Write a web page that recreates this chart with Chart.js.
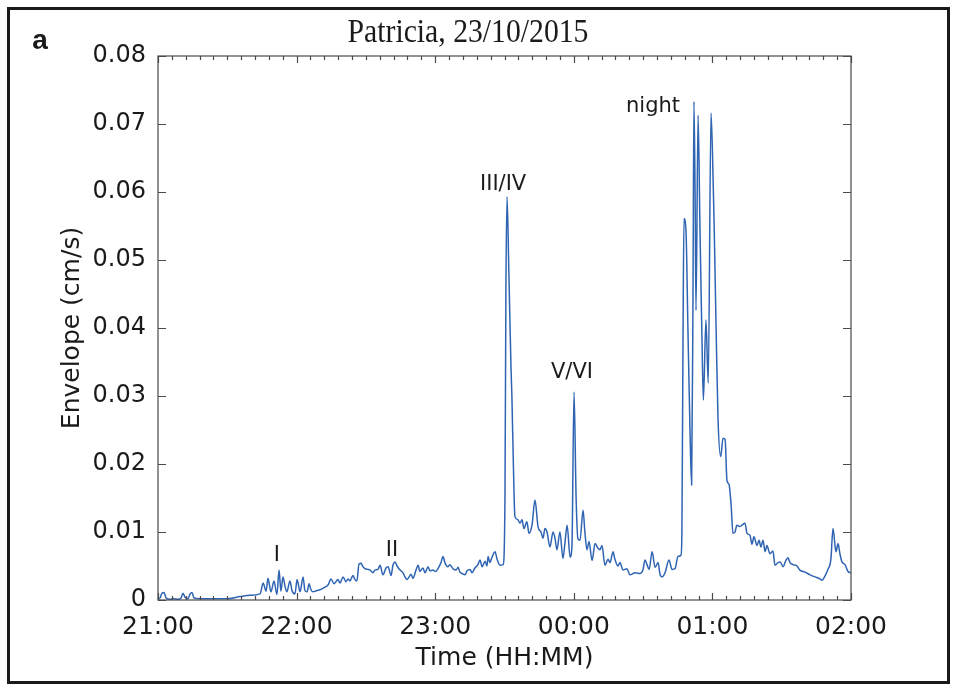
<!DOCTYPE html>
<html>
<head>
<meta charset="utf-8">
<script src="https://cdn.jsdelivr.net/npm/chart.js@4.4.1/dist/chart.umd.min.js"></script>
<style>
  html, body { margin: 0; padding: 0; background: #fff; }
  #wrap { position: absolute; left: 0; top: 0; width: 956px; height: 687px; }
</style>
</head>
<body>
<div id="wrap"><canvas id="c" width="956" height="687"></canvas></div>
<script>
// Time in minutes after 21:00 (23/10/2015)
const times = [
  0, 0.9, 1.7, 2.6, 3.5, 5.2, 6.9, 8.7, 10.0, 10.8, 11.7, 13.0, 13.9, 14.7, 15.6, 18.2, 22.5, 26.8, 30.3, 35.5,
  39.8, 44.2, 45.5, 46.8, 47.6, 48.9, 50.2, 51.5, 52.4, 53.2, 54.1, 55.0, 55.8, 57.1, 58.0, 59.3, 60.2, 61.5, 62.8, 63.6,
  64.5, 65.4, 66.2, 67.1, 68.8, 70.1, 71.4, 72.3, 73.6, 74.9, 76.2, 77.9, 78.8, 80.1, 81.4, 82.3, 83.1, 84.4, 85.3, 86.1,
  87.0, 87.9, 88.7, 89.6, 90.9, 91.8, 93.1, 93.9, 95.2, 96.1, 97.4, 98.7, 99.6, 100.9, 101.7, 102.6, 103.5, 104.8, 106.1, 106.9,
  107.8, 108.7, 109.5, 110.4, 111.7, 112.6, 113.4, 114.7, 115.6, 116.9, 117.7, 119.0, 120.3, 121.2, 122.5, 123.4, 124.2, 125.5, 126.4, 127.7,
  129.0, 129.9, 130.7, 131.6, 132.9, 133.8, 135.1, 135.9, 137.2, 138.5, 139.4, 140.3, 141.6, 142.4, 142.9, 143.7, 144.6, 145.9, 146.8, 148.1,
  149.4, 150.2, 150.6, 151.1, 151.9, 152.8, 153.2, 154.1, 154.5, 155.8, 156.7, 157.6, 158.4, 159.7, 160.6, 161.9, 163.2, 164.5, 165.8, 166.7,
  167.5, 168.4, 169.7, 171.0, 171.9, 172.7, 174.0, 175.3, 176.2, 177.1, 178.4, 179.2, 180.1, 181.0, 181.8, 182.7, 184.0, 184.8, 185.7, 186.6,
  187.9, 189.2, 190.5, 191.3, 192.2, 193.5, 194.8, 195.7, 197.0, 197.8, 199.1, 200.0, 201.3, 203.0, 204.3, 206.5, 208.7, 210.0, 210.8, 211.7,
  212.6, 213.9, 215.2, 216.5, 217.3, 218.2, 219.5, 221.2, 222.5, 223.8, 225.1, 226.4, 226.8, 227.3, 227.7, 228.6, 229.4, 230.3, 231.0, 231.6,
  232.0, 232.5, 232.9, 233.8, 234.6, 235.5, 236.1, 237.2, 238.2, 239.4, 240.3, 240.8, 241.6, 242.4, 243.6, 244.6, 245.5, 246.3, 247.2, 248.1,
  248.9, 249.8, 250.6, 251.9, 252.8, 254.1, 255.0, 256.3, 257.1, 258.0, 259.3, 260.2, 261.0, 261.9, 262.8, 263.6, 264.9, 266.2, 267.1, 268.4,
  269.3, 270.6, 271.8, 272.7, 273.6, 274.9, 276.6, 277.9, 280.1, 282.3, 284.4, 286.6, 287.4, 288.7, 290.0, 291.3, 292.2, 293.1, 293.5, 294.4,
  295.2, 296.1, 297.4, 298.7, 300.0
];
// Envelope (cm/s)
const envelope = [
  0.0002, 0.0003, 0.0010, 0.0011, 0.0003, 0.0001, 0.0002, 0.0001, 0.0003, 0.0010, 0.0004, 0.0002, 0.0009, 0.0011, 0.0003, 0.0002, 0.0002, 0.0002, 0.0002, 0.0005,
  0.0007, 0.0009, 0.0025, 0.0013, 0.0032, 0.0012, 0.0028, 0.0008, 0.0044, 0.0013, 0.0034, 0.0020, 0.0012, 0.0028, 0.0014, 0.0009, 0.0030, 0.0012, 0.0034, 0.0014,
  0.0012, 0.0024, 0.0015, 0.0012, 0.0014, 0.0015, 0.0017, 0.0019, 0.0022, 0.0031, 0.0024, 0.0030, 0.0025, 0.0034, 0.0027, 0.0031, 0.0028, 0.0036, 0.0030, 0.0028,
  0.0053, 0.0054, 0.0049, 0.0046, 0.0045, 0.0044, 0.0040, 0.0044, 0.0045, 0.0051, 0.0037, 0.0047, 0.0049, 0.0036, 0.0051, 0.0056, 0.0050, 0.0044, 0.0040, 0.0034,
  0.0030, 0.0034, 0.0038, 0.0032, 0.0044, 0.0051, 0.0042, 0.0047, 0.0040, 0.0049, 0.0043, 0.0044, 0.0042, 0.0046, 0.0055, 0.0064, 0.0055, 0.0049, 0.0052, 0.0046,
  0.0044, 0.0048, 0.0041, 0.0039, 0.0037, 0.0043, 0.0045, 0.0040, 0.0047, 0.0052, 0.0059, 0.0049, 0.0057, 0.0050, 0.0064, 0.0055, 0.0063, 0.0071, 0.0060, 0.0051,
  0.0052, 0.0150, 0.0450, 0.0593, 0.0480, 0.0343, 0.0300, 0.0160, 0.0123, 0.0118, 0.0113, 0.0118, 0.0105, 0.0115, 0.0098, 0.0110, 0.0147, 0.0108, 0.0100, 0.0091,
  0.0105, 0.0100, 0.0078, 0.0100, 0.0090, 0.0074, 0.0100, 0.0061, 0.0085, 0.0110, 0.0063, 0.0080, 0.0306, 0.0150, 0.0090, 0.0088, 0.0132, 0.0100, 0.0074, 0.0086,
  0.0058, 0.0083, 0.0076, 0.0074, 0.0080, 0.0051, 0.0060, 0.0055, 0.0071, 0.0060, 0.0050, 0.0055, 0.0044, 0.0046, 0.0037, 0.0040, 0.0039, 0.0045, 0.0059, 0.0052,
  0.0045, 0.0071, 0.0048, 0.0055, 0.0038, 0.0034, 0.0040, 0.0059, 0.0045, 0.0046, 0.0064, 0.0066, 0.0100, 0.0400, 0.0561, 0.0540, 0.0400, 0.0250, 0.0169, 0.0450,
  0.0733, 0.0600, 0.0426, 0.0713, 0.0550, 0.0380, 0.0294, 0.0412, 0.0319, 0.0716, 0.0620, 0.0544, 0.0400, 0.0270, 0.0211, 0.0238, 0.0236, 0.0176, 0.0170, 0.0140,
  0.0098, 0.0100, 0.0110, 0.0108, 0.0110, 0.0113, 0.0098, 0.0095, 0.0082, 0.0093, 0.0080, 0.0088, 0.0078, 0.0088, 0.0071, 0.0080, 0.0068, 0.0072, 0.0051, 0.0055,
  0.0056, 0.0049, 0.0058, 0.0062, 0.0055, 0.0052, 0.0050, 0.0044, 0.0041, 0.0037, 0.0034, 0.0031, 0.0029, 0.0035, 0.0045, 0.0060, 0.0105, 0.0080, 0.0071, 0.0083,
  0.0068, 0.0056, 0.0052, 0.0042, 0.0040
];
// Tick labels (x: every 60 min from 21:00)
const xTickLabels = ['21:00', '22:00', '23:00', '00:00', '01:00', '02:00'];
const yTickValues = [0, 0.01, 0.02, 0.03, 0.04, 0.05, 0.06, 0.07, 0.08];
// Event annotations
const eventLabels = ['I', 'II', 'III/IV', 'V/VI', 'night'];
const eventTimes = [51.5, 101.3, 149.4, 179.2, 214.3];
const eventValues = [0.0065, 0.0072, 0.0611, 0.0335, 0.0726];

const chartTitle = 'Patricia, 23/10/2015';
const panelLetter = 'a';

const points = times.map((t, i) => ({ x: t, y: envelope[i] }));

const framePlugin = {
  id: 'framePlugin',
  beforeDraw(chart) {
    const ctx = chart.ctx;
    ctx.save();
    ctx.fillStyle = '#fff';
    ctx.fillRect(0, 0, chart.width, chart.height);
    ctx.strokeStyle = '#1a1a1a';
    ctx.lineWidth = 3;
    ctx.strokeRect(8.5, 8.5, 940, 674);
    ctx.restore();
  },
  afterDraw(chart) {
    const ctx = chart.ctx;
    const a = chart.chartArea;
    const xs = chart.scales.x, ys = chart.scales.y;
    ctx.save();
    ctx.strokeStyle = '#4a4a4a';
    ctx.lineWidth = 1.2;
    ctx.strokeRect(a.left, a.top, a.right - a.left, a.bottom - a.top);
    ctx.beginPath();
    // x ticks every 6 minutes (minor), every hour major
    for (let m = 0; m <= 300; m += 6) {
      const px = Math.round(xs.getPixelForValue(m)) + 0.5;
      const len = (m % 60 === 0) ? 7 : 4;
      ctx.moveTo(px, a.bottom); ctx.lineTo(px, a.bottom - len);
      ctx.moveTo(px, a.top); ctx.lineTo(px, a.top + len);
    }
    yTickValues.forEach(v => {
      const py = Math.round(ys.getPixelForValue(v)) + 0.5;
      ctx.moveTo(a.left, py); ctx.lineTo(a.left + 8, py);
      ctx.moveTo(a.right, py); ctx.lineTo(a.right - 8, py);
    });
    ctx.stroke();

    // title
    ctx.fillStyle = '#1a1a1a';
    ctx.textAlign = 'center';
    ctx.textBaseline = 'middle';
    ctx.font = '33px "Liberation Serif", "Times New Roman", serif';
    ctx.save();
    ctx.translate(468, 33);
    ctx.scale(0.9, 1);
    ctx.fillText(chartTitle, 0, 0);
    ctx.restore();

    // panel letter
    ctx.font = 'bold 28px "Liberation Sans", Arial, sans-serif';
    ctx.fillText(panelLetter, 40, 41);

    // event labels
    ctx.font = '21px "DejaVu Sans", sans-serif';
    eventLabels.forEach((lab, i) => {
      const px = xs.getPixelForValue(eventTimes[i]);
      const py = ys.getPixelForValue(eventValues[i]);
      ctx.fillText(lab, px, py);
    });
    ctx.restore();
  }
};

new Chart(document.getElementById('c'), {
  type: 'line',
  data: {
    datasets: [{
      data: points,
      borderColor: '#2f64b3',
      borderWidth: 1.5,
      pointRadius: 0,
      fill: false,
      cubicInterpolationMode: 'monotone'
    }]
  },
  options: {
    responsive: false,
    animation: false,
    events: [],
    layout: { padding: { left: 0, right: 105, top: 56, bottom: 0 } },
    plugins: { legend: { display: false }, tooltip: { enabled: false }, title: { display: false } },
    scales: {
      x: {
        type: 'linear',
        min: 0, max: 300,
        grid: { display: false, drawTicks: false },
        border: { display: false },
        ticks: {
          stepSize: 60,
          padding: 12,
          maxRotation: 0,
          color: '#1a1a1a',
          font: { family: '"DejaVu Sans", sans-serif', size: 25 },
          callback: (v) => xTickLabels[Math.round(v / 60)] ?? ''
        },
        title: {
          display: true,
          text: 'Time (HH:MM)',
          color: '#1a1a1a',
          font: { family: '"DejaVu Sans", sans-serif', size: 25 },
          padding: { top: 0, bottom: 14 }
        },
        afterFit: (s) => { s.height = 87; }
      },
      y: {
        min: 0, max: 0.08,
        grid: { display: false, drawTicks: false },
        border: { display: false },
        afterBuildTicks: (s) => { s.ticks = yTickValues.map(v => ({ value: v })); },
        ticks: {
          padding: 12,
          color: '#1a1a1a',
          font: { family: '"DejaVu Sans", sans-serif', size: 24 },
          callback: (v) => v === 0 ? '0' : v.toFixed(2)
        },
        title: {
          display: true,
          text: 'Envelope (cm/s)',
          color: '#1a1a1a',
          font: { family: '"DejaVu Sans", sans-serif', size: 25 },
          padding: { top: 57, bottom: 0 }
        },
        afterFit: (s) => { s.width = 158; }
      }
    }
  },
  plugins: [framePlugin]
});
</script>
</body>
</html>
